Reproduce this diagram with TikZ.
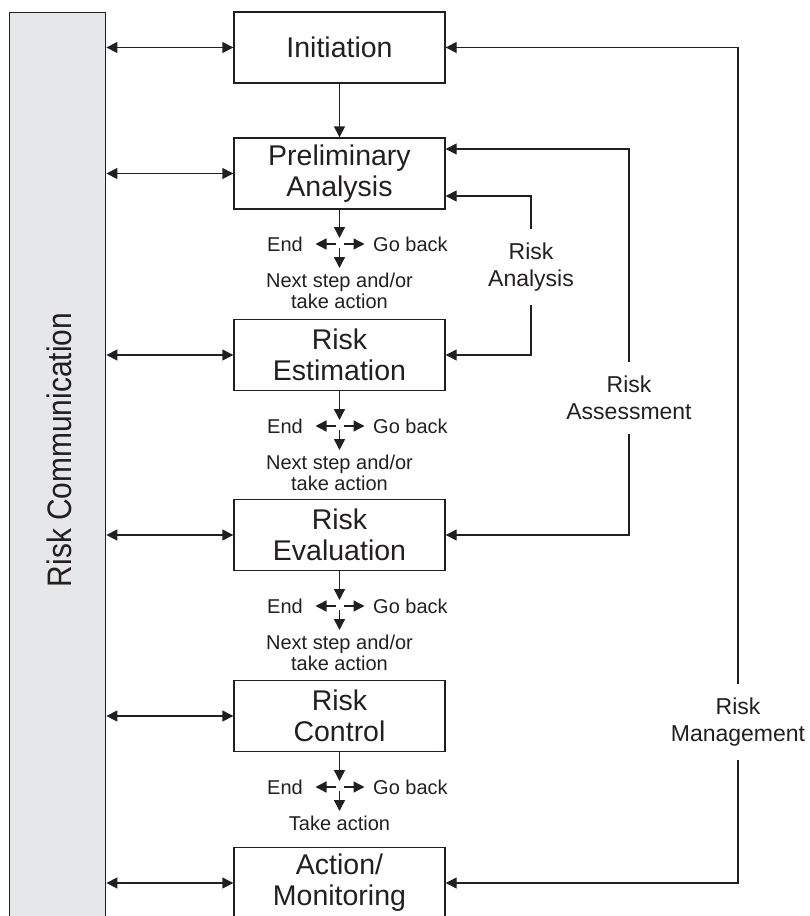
\documentclass[tikz,border=0pt]{standalone}
\usepackage{fontspec}
\setmainfont{Liberation Sans}
\usepackage{xcolor}
\usetikzlibrary{arrows.meta,positioning}
\definecolor{commgray}{HTML}{E6E7E8}
\definecolor{ink}{HTML}{231F20}

\begin{document}
\begin{tikzpicture}[x=1pt,y=-1pt,
    stage/.style={draw=ink,line width=1.4pt,minimum width=211pt,minimum height=71pt,inner sep=0pt,align=center,text=ink,font=\fontsize{28.5}{31}\selectfont},
    link/.style={draw=ink,line width=1.4pt,-{Triangle[length=11pt,width=11pt]}},
    twoway/.style={link,{Triangle[length=11pt,width=11pt]}-{Triangle[length=11pt,width=11pt]}},
    note/.style={inner sep=0pt,align=center,text=ink,font=\fontsize{20}{21}\selectfont},
    side/.style={inner xsep=2pt,inner ysep=14pt,align=center,text=ink,font=\fontsize{23}{26.5}\selectfont}]
      \useasboundingbox (0,0) rectangle (809,916);

      \node[draw=ink,line width=1.4pt,fill=commgray,minimum width=96pt,minimum height=930pt,inner sep=0pt,anchor=north west] (comm) at (9,12) {};
      \node[rotate=90,anchor=base,inner sep=0pt,text=ink,font=\fontsize{34}{36}\selectfont] (commtext) at (71,450) {\scalebox{0.88}[1]{Risk Communication}};

      \node[stage] (ini) at (339.5,47.5) {Initiation};
      \node[stage] (pre) at (339.5,173.5) {Preliminary\\Analysis};
      \node[stage] (est) at (339.5,355) {Risk\\Estimation};
      \node[stage] (eva) at (339.5,535) {Risk\\Evaluation};
      \node[stage] (con) at (339.5,716) {Risk\\Control};
      \node[stage] (act) at (339.5,883) {Action/\\Monitoring};

      \draw[twoway] (comm.east |- ini) -- (ini.west);
      \draw[twoway] (comm.east |- pre) -- (pre.west);
      \draw[twoway] (comm.east |- est) -- (est.west);
      \draw[twoway] (comm.east |- eva) -- (eva.west);
      \draw[twoway] (comm.east |- con) -- (con.west);
      \draw[twoway] (comm.east |- act) -- (act.west);

      \draw[link] (ini) -- (pre);

      \coordinate (c1) at (339.5,244);
      \coordinate (c2) at (339.5,426);
      \coordinate (c3) at (339.5,606);
      \coordinate (c4) at (339.5,787);

      \draw[link] (pre) -- ([yshift=6pt]c1);
      \draw[link] ([xshift=-4pt]c1) -- ([xshift=-24pt]c1) node[note,left=12pt] (end1) {End};
      \draw[link] ([xshift=4pt]c1) -- ([xshift=25pt]c1) node[note,right=8pt] (back1) {Go back};
      \draw[link] ([yshift=-4pt]c1) -- ([yshift=-24pt]c1) node[note,below=4pt] (next1) {Next step and/or\\take action};

      \draw[link] (est) -- ([yshift=6pt]c2);
      \draw[link] ([xshift=-4pt]c2) -- ([xshift=-24pt]c2) node[note,left=12pt] (end2) {End};
      \draw[link] ([xshift=4pt]c2) -- ([xshift=25pt]c2) node[note,right=8pt] (back2) {Go back};
      \draw[link] ([yshift=-4pt]c2) -- ([yshift=-24pt]c2) node[note,below=4pt] (next2) {Next step and/or\\take action};

      \draw[link] (eva) -- ([yshift=6pt]c3);
      \draw[link] ([xshift=-4pt]c3) -- ([xshift=-24pt]c3) node[note,left=12pt] (end3) {End};
      \draw[link] ([xshift=4pt]c3) -- ([xshift=25pt]c3) node[note,right=8pt] (back3) {Go back};
      \draw[link] ([yshift=-4pt]c3) -- ([yshift=-24pt]c3) node[note,below=4pt] (next3) {Next step and/or\\take action};

      \draw[link] (con) -- ([yshift=6pt]c4);
      \draw[link] ([xshift=-4pt]c4) -- ([xshift=-24pt]c4) node[note,left=12pt] (end4) {End};
      \draw[link] ([xshift=4pt]c4) -- ([xshift=25pt]c4) node[note,right=8pt] (back4) {Go back};
      \draw[link] ([yshift=-4pt]c4) -- ([yshift=-24pt]c4) node[note,below=4pt] (next4) {Take action};

      \node[side] (ana) at (531,267) {Risk\\Analysis};
      \node[side] (ass) at (629,398) {Risk\\Assessment};
      \node[side] (man) at (738,722) {Risk\\Management};

      \draw[link] (ana.north) |- ([yshift=-22.5pt]pre.east);
      \draw[link] (ana.south) |- (est.east);
      \draw[link] (ass.north) |- ([yshift=24.5pt]pre.east);
      \draw[link] (ass.south) |- (eva.east);
      \draw[link] (man.north) |- (ini.east);
      \draw[link] (man.south) |- (act.east);

    \end{tikzpicture}
\end{document}
